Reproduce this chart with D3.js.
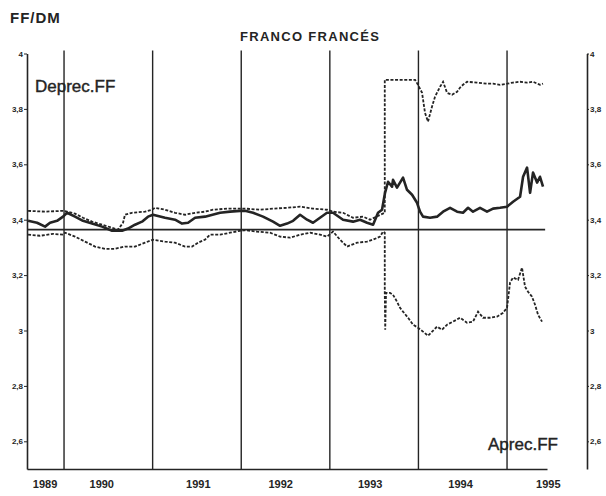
<!DOCTYPE html>
<html>
<head>
<meta charset="utf-8">
<script src="https://cdn.jsdelivr.net/npm/d3@7"></script>
<style>
  body { margin: 0; background: #fff; }
  svg { display: block; font-family: "Liberation Sans", Arial, Helvetica, sans-serif; }
</style>
</head>
<body>
<div id="chart"></div>
<script>
// FF/DM rate, ERM limits (decimal year, FF per DM)
var parity = 3.364;
var yearLines = [1990, 1991, 1992, 1993, 1994, 1995];
var yearLabels = ["1989", "1990", "1991", "1992", "1993", "1994", "1995"];
var yearLabelPos = [1989.78, 1990.42, 1991.51, 1992.44, 1993.45, 1994.47, 1995.46];
var yTicks = [2.6, 2.8, 3, 3.2, 3.4, 3.6, 3.8, 4];

// upper limit (Deprec.FF)
var upperBand = [
  [1989.594,3.432],[1989.786,3.429],[1989.989,3.432],
  [1990.034,3.429],[1990.124,3.422],[1990.214,3.407],[1990.316,3.393],[1990.429,3.382],[1990.542,3.371],[1990.609,3.364],
  [1990.666,3.389],[1990.688,3.418],[1990.767,3.425],[1990.914,3.429],[1990.993,3.436],
  [1991.027,3.443],[1991.140,3.436],[1991.253,3.425],[1991.366,3.418],[1991.479,3.425],[1991.591,3.429],[1991.682,3.436],
  [1991.840,3.440],[1991.986,3.440],
  [1992.043,3.440],[1992.212,3.436],[1992.359,3.440],[1992.517,3.443],[1992.664,3.447],[1992.810,3.440],[1992.968,3.436],
  [1993.036,3.429],[1993.149,3.425],[1993.262,3.407],[1993.375,3.411],[1993.454,3.400],[1993.544,3.414],[1993.620,3.425],
  [1993.620,3.905],
  [1993.962,3.905],[1993.995,3.887],[1994.041,3.858],[1994.074,3.786],[1994.108,3.754],[1994.153,3.808],[1994.187,3.844],
  [1994.244,3.880],[1994.278,3.898],[1994.323,3.858],[1994.379,3.851],[1994.436,3.862],[1994.470,3.877],[1994.503,3.887],
  [1994.549,3.898],[1994.661,3.895],[1994.774,3.891],[1994.842,3.891],[1994.921,3.887],[1995.000,3.891],[1995.068,3.895],
  [1995.147,3.898],[1995.226,3.895],[1995.293,3.898],[1995.372,3.887],[1995.406,3.891]
];

// FF/DM market rate
var ffdm = [
  [1989.594,3.396],[1989.695,3.389],[1989.786,3.375],[1989.842,3.389],[1989.921,3.396],[1989.989,3.411],
  [1990.034,3.425],[1990.124,3.411],[1990.214,3.396],[1990.316,3.386],[1990.429,3.375],[1990.542,3.360],[1990.655,3.360],
  [1990.722,3.368],[1990.801,3.382],[1990.880,3.393],[1990.948,3.411],[1991.004,3.418],
  [1991.140,3.407],[1991.253,3.400],[1991.332,3.386],[1991.400,3.389],[1991.479,3.407],[1991.591,3.411],[1991.761,3.425],
  [1991.874,3.429],[1991.986,3.432],
  [1992.043,3.432],[1992.133,3.425],[1992.246,3.411],[1992.359,3.393],[1992.438,3.378],[1992.517,3.386],[1992.585,3.396],
  [1992.664,3.418],[1992.743,3.400],[1992.810,3.389],[1992.889,3.407],[1992.968,3.425],
  [1993.036,3.425],[1993.149,3.400],[1993.262,3.393],[1993.341,3.400],[1993.420,3.389],[1993.488,3.382],[1993.544,3.425],
  [1993.589,3.436],[1993.623,3.497],[1993.657,3.537],[1993.702,3.519],[1993.713,3.544],[1993.758,3.516],[1993.792,3.534],
  [1993.826,3.552],[1993.871,3.508],[1993.928,3.490],[1993.984,3.461],[1994.018,3.429],[1994.052,3.411],[1994.131,3.407],
  [1994.210,3.411],[1994.278,3.429],[1994.357,3.443],[1994.436,3.429],[1994.503,3.425],[1994.560,3.443],[1994.616,3.429],
  [1994.695,3.443],[1994.774,3.429],[1994.842,3.440],[1994.921,3.443],[1995.000,3.447],[1995.068,3.465],[1995.147,3.483],
  [1995.181,3.555],[1995.226,3.588],[1995.260,3.497],[1995.293,3.570],[1995.339,3.534],[1995.372,3.555],[1995.406,3.519]
];

// lower limit (Aprec.FF)
var lowerBand = [
  [1989.594,3.346],[1989.729,3.342],[1989.876,3.349],[1989.989,3.346],
  [1990.011,3.353],[1990.124,3.339],[1990.237,3.321],[1990.350,3.303],[1990.463,3.295],[1990.576,3.295],[1990.688,3.303],
  [1990.801,3.303],[1990.914,3.317],[1991.004,3.328],
  [1991.140,3.321],[1991.253,3.317],[1991.366,3.303],[1991.445,3.303],[1991.512,3.317],[1991.591,3.328],[1991.648,3.346],
  [1991.761,3.346],[1991.874,3.353],[1991.986,3.360],
  [1992.043,3.362],[1992.178,3.357],[1992.325,3.353],[1992.438,3.339],[1992.551,3.335],[1992.664,3.346],[1992.777,3.353],
  [1992.889,3.346],[1992.968,3.339],
  [1993.036,3.357],[1993.115,3.328],[1993.194,3.303],[1993.307,3.317],[1993.420,3.321],[1993.488,3.328],[1993.567,3.339],
  [1993.600,3.357],[1993.620,3.353],[1993.620,3.140],[1993.625,3.003],[1993.634,3.136],
  [1993.679,3.136],[1993.713,3.129],[1993.758,3.104],[1993.792,3.082],[1993.826,3.068],[1993.883,3.046],[1993.939,3.021],
  [1993.995,3.010],[1994.052,2.996],[1994.108,2.981],[1994.210,3.014],[1994.266,3.003],[1994.323,3.021],[1994.391,3.032],
  [1994.470,3.046],[1994.549,3.028],[1994.616,3.032],[1994.673,3.068],[1994.729,3.046],[1994.808,3.046],[1994.887,3.050],
  [1994.955,3.064],[1995.000,3.082],[1995.034,3.173],[1995.068,3.191],[1995.124,3.183],[1995.169,3.227],[1995.203,3.158],
  [1995.237,3.140],[1995.282,3.122],[1995.316,3.093],[1995.350,3.057],[1995.395,3.032]
];

var width = 606, height = 496;
var ink = "#242424";

var x = d3.scaleLinear().domain([1989.582, 1995.451]).range([27, 547]);
var y = d3.scaleLinear().domain([2.5, 4]).range([469, 53.5]);
var fmt = d => String(d).replace(".", ",");

var svg = d3.select("#chart").append("svg")
    .attr("width", width)
    .attr("height", height);

// year separators
svg.append("g")
  .selectAll("line")
  .data(yearLines)
  .join("line")
    .attr("x1", d => x(d))
    .attr("x2", d => x(d))
    .attr("y1", y(4) - 3)
    .attr("y2", y(2.5))
    .attr("stroke", ink)
    .attr("stroke-width", 1.4);

var styleText = (g, size) => g.selectAll("text")
    .attr("font-family", "'Liberation Sans', Arial, sans-serif")
    .attr("font-size", size)
    .attr("font-weight", "bold")
    .attr("fill", ink);

var xAxis = g => g
    .attr("transform", `translate(0,${y(2.5)})`)
    .call(d3.axisBottom(x).tickValues(yearLabelPos).tickFormat((d, i) => yearLabels[i]).tickSize(0).tickSizeOuter(0))
    .call(g => g.select(".domain").attr("stroke", ink).attr("stroke-width", 1.6))
    .call(g => styleText(g, 11).attr("dy", null).attr("y", 19));

var yAxisLeft = g => g
    .attr("transform", `translate(${x.range()[0]},0)`)
    .call(d3.axisLeft(y).tickValues(yTicks).tickFormat(fmt).tickSize(3).tickPadding(1).tickSizeOuter(0))
    .call(g => g.select(".domain").attr("stroke", ink).attr("stroke-width", 1.6))
    .call(g => g.selectAll(".tick line").attr("stroke", ink))
    .call(g => styleText(g, 8));

var yAxisRight = g => g
    .attr("transform", `translate(587,0)`)
    .call(d3.axisRight(y).tickValues(yTicks).tickFormat(fmt).tickSize(2).tickPadding(1).tickSizeOuter(0))
    .call(g => g.select(".domain").attr("stroke", ink).attr("stroke-width", 1.6))
    .call(g => g.selectAll(".tick line").attr("stroke", ink))
    .call(g => styleText(g, 8));

svg.append("g").call(xAxis);
svg.append("g").call(yAxisLeft);
svg.append("g").call(yAxisRight);

// central parity
svg.append("line")
    .attr("x1", x(1989.582))
    .attr("x2", x(1995.43))
    .attr("y1", y(parity))
    .attr("y2", y(parity))
    .attr("stroke", ink)
    .attr("stroke-width", 1.6);

var line = d3.line()
    .x(d => x(d[0]))
    .y(d => y(d[1]));

svg.append("path")
    .datum(upperBand)
    .attr("fill", "none")
    .attr("stroke", ink)
    .attr("stroke-width", 1.8)
    .attr("stroke-dasharray", "3,1.6")
    .attr("d", line);

svg.append("path")
    .datum(lowerBand)
    .attr("fill", "none")
    .attr("stroke", ink)
    .attr("stroke-width", 1.8)
    .attr("stroke-dasharray", "3,1.6")
    .attr("d", line);

svg.append("path")
    .datum(ffdm)
    .attr("fill", "none")
    .attr("stroke", ink)
    .attr("stroke-width", 2.6)
    .attr("stroke-linejoin", "round")
    .attr("d", line);

// labels
svg.append("text")
    .attr("x", 10).attr("y", 23)
    .attr("font-size", 15).attr("font-weight", "bold")
    .attr("letter-spacing", 1)
    .attr("fill", ink)
    .text("FF/DM");

svg.append("text")
    .attr("x", 240).attr("y", 41)
    .attr("font-size", 13).attr("font-weight", "bold")
    .attr("letter-spacing", 1.3)
    .attr("fill", ink)
    .text("FRANCO FRANCÉS");

svg.append("text")
    .attr("x", 35).attr("y", 92)
    .attr("font-size", 17)
    .attr("fill", ink)
    .attr("stroke", ink).attr("stroke-width", 0.4)
    .text("Deprec.FF");

svg.append("text")
    .attr("x", 488).attr("y", 450)
    .attr("font-size", 17)
    .attr("fill", ink)
    .attr("stroke", ink).attr("stroke-width", 0.4)
    .text("Aprec.FF");
</script>
</body>
</html>
